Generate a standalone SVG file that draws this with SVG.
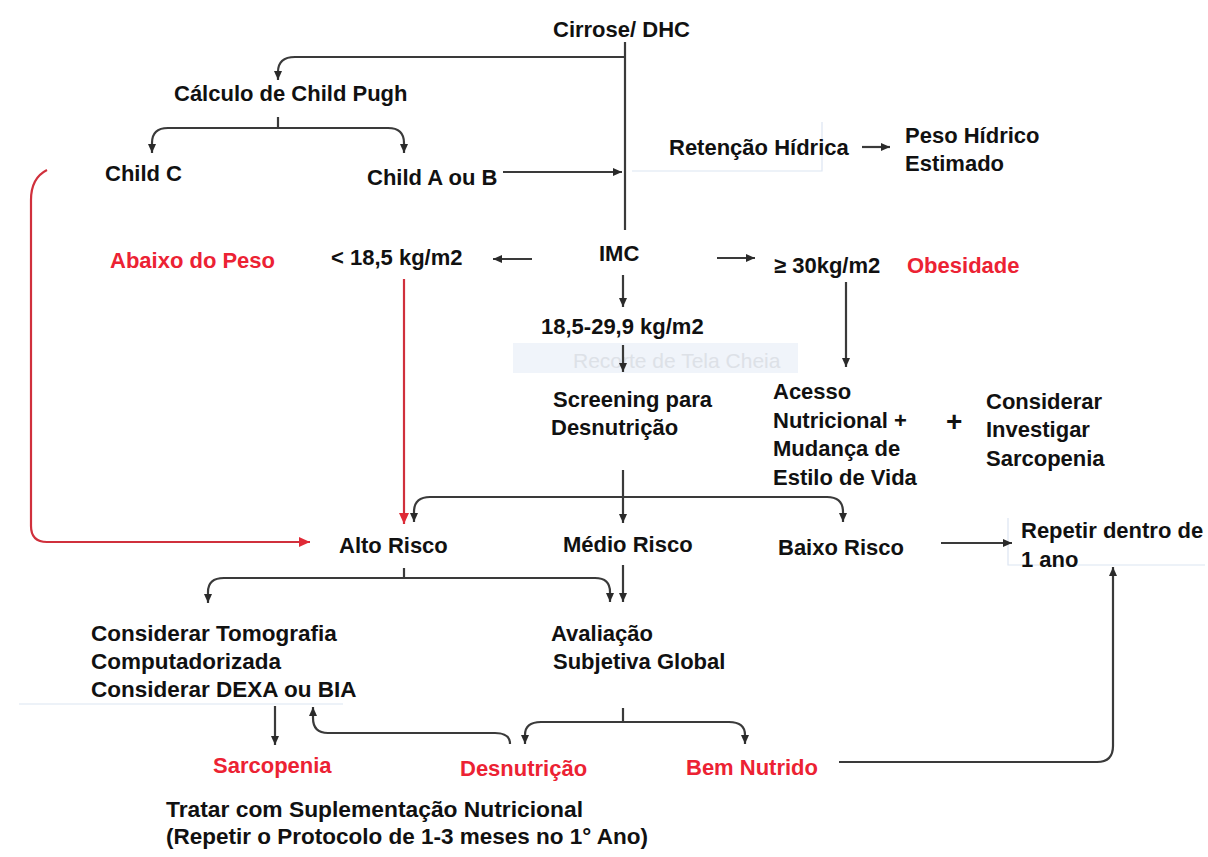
<svg xmlns="http://www.w3.org/2000/svg" width="1208" height="857" viewBox="0 0 1208 857">
<style>
text{font-family:"Liberation Sans",Arial,sans-serif;font-weight:bold;font-size:22px;fill:#111}
.red{fill:#ec2233}
.big{font-size:22.5px}
.c{fill:none;stroke:#3a3a3a;stroke-width:2.2}
.r{fill:none;stroke:#d0303c;stroke-width:2.2}
.faint{fill:none;stroke:#dce5f2;stroke-width:1.2}
.wm{fill:#dde1e7;font-weight:normal;font-size:21px}
</style>
<defs>
<marker id="a" markerUnits="userSpaceOnUse" markerWidth="10" markerHeight="10" viewBox="0 0 10 10" refX="9" refY="5" orient="auto"><path d="M0,1 L9,5 L0,9 Z" fill="#2a2a2a"/></marker>
<marker id="ar" markerUnits="userSpaceOnUse" markerWidth="12" markerHeight="12" viewBox="0 0 12 12" refX="11" refY="6" orient="auto"><path d="M0,1 L11,6 L0,11 Z" fill="#e02a36"/></marker>
</defs>
<rect width="1208" height="857" fill="#fff"/>
<g id="artifacts">
<rect x="513" y="343" width="285" height="30" fill="#f0f4fa"/>
<text class="wm" x="573" y="368">Recorte de Tela Cheia</text>
<path class="faint" d="M632,171 H822 V122"/>
<path class="faint" d="M19,704 H343"/>
<path class="faint" d="M1008,518 V565 H1205"/>
</g>
<g id="connectors">
<path class="c" d="M625,42 V230"/>
<path class="c" d="M625,57 H295 Q278,57 278,72 V80" marker-end="url(#a)"/>
<path class="c" d="M278,117 V128"/>
<path class="c" d="M278,128 H168 Q152,128 152,143 V153" marker-end="url(#a)"/>
<path class="c" d="M278,128 H388 Q404,128 404,143 V153" marker-end="url(#a)"/>
<path class="c" d="M503,172 H622" marker-end="url(#a)"/>
<path class="c" d="M862,147 H890" marker-end="url(#a)"/>
<path class="c" d="M532,259 H493" marker-end="url(#a)"/>
<path class="c" d="M717,258 H755" marker-end="url(#a)"/>
<path class="c" d="M623,275 V307" marker-end="url(#a)"/>
<path class="c" d="M623,345 V372" marker-end="url(#a)"/>
<path class="c" d="M846,282 V367" marker-end="url(#a)"/>
<path class="r" d="M404,279 V524" marker-end="url(#ar)"/>
<path class="r" d="M47,170 Q31,178 31,200 V526 Q31,542 47,542 H310" marker-end="url(#ar)"/>
<path class="c" d="M623,470 V523" marker-end="url(#a)"/>
<path class="c" d="M623,497 H430 Q414,497 414,512 V522" marker-end="url(#a)"/>
<path class="c" d="M623,497 H827 Q843,497 843,512 V522" marker-end="url(#a)"/>
<path class="c" d="M941,543 H1012" marker-end="url(#a)"/>
<path class="c" d="M404,568 V578"/>
<path class="c" d="M404,578 H224 Q208,578 208,592 V603" marker-end="url(#a)"/>
<path class="c" d="M404,578 H595 Q610,578 610,592 V602" marker-end="url(#a)"/>
<path class="c" d="M623,565 V602" marker-end="url(#a)"/>
<path class="c" d="M623,708 V722"/>
<path class="c" d="M623,722 H541 Q525,722 525,735 V744" marker-end="url(#a)"/>
<path class="c" d="M623,722 H729 Q745,722 745,735 V744" marker-end="url(#a)"/>
<path class="c" d="M510,744 Q510,733 495,733 H328 Q313,733 313,718 V707" marker-end="url(#a)"/>
<path class="c" d="M275,706 V745" marker-end="url(#a)"/>
<path class="c" d="M839,762 H1097 Q1113,762 1113,746 V567" marker-end="url(#a)"/>
</g>
<g id="n-cirrose"><text x="553" y="37">Cirrose/ DHC</text></g>
<g id="n-calculo"><text x="174" y="101">Cálculo de Child Pugh</text></g>
<g id="n-childc"><text x="105" y="181">Child C</text></g>
<g id="n-childab"><text x="367" y="185">Child A ou B</text></g>
<g id="n-retencao"><text x="669" y="155">Retenção Hídrica</text></g>
<g id="n-peso"><text x="905" y="143">Peso Hídrico</text><text x="905" y="171">Estimado</text></g>
<g id="n-abaixo"><text class="red" x="110" y="268">Abaixo do Peso</text></g>
<g id="n-menor"><text x="331" y="265">&lt; 18,5 kg/m2</text></g>
<g id="n-imc"><text x="599" y="261">IMC</text></g>
<g id="n-maior"><text x="774" y="273">≥ 30kg/m2</text></g>
<g id="n-obesidade"><text class="red" x="907" y="273">Obesidade</text></g>
<g id="n-normal"><text x="541" y="334">18,5-29,9 kg/m2</text></g>
<g id="n-screening"><text x="553" y="407">Screening para</text><text x="551" y="435">Desnutrição</text></g>
<g id="n-acesso"><text x="773" y="399">Acesso</text><text x="773" y="428">Nutricional +</text><text x="773" y="456">Mudança de</text><text x="773" y="485">Estilo de Vida</text></g>
<g id="n-plus"><text x="946" y="431" style="font-size:28px">+</text></g>
<g id="n-considerar"><text x="986" y="409">Considerar</text><text x="986" y="437">Investigar</text><text x="986" y="466">Sarcopenia</text></g>
<g id="n-alto"><text x="339" y="553">Alto Risco</text></g>
<g id="n-medio"><text x="563" y="552">Médio Risco</text></g>
<g id="n-baixo"><text x="778" y="555">Baixo Risco</text></g>
<g id="n-repetir"><text x="1021" y="538">Repetir dentro de</text><text x="1021" y="567">1 ano</text></g>
<g id="n-tomografia"><text class="big" x="91" y="641">Considerar Tomografia</text><text class="big" x="91" y="669">Computadorizada</text><text class="big" x="91" y="697">Considerar DEXA ou BIA</text></g>
<g id="n-avaliacao"><text x="551" y="641">Avaliação</text><text x="553" y="669">Subjetiva Global</text></g>
<g id="n-sarcopenia"><text class="red" x="213" y="773">Sarcopenia</text></g>
<g id="n-desnutricao"><text class="red" x="460" y="776">Desnutrição</text></g>
<g id="n-bem"><text class="red" x="686" y="775">Bem Nutrido</text></g>
<g id="n-tratar"><text x="166" y="817" textLength="417" lengthAdjust="spacingAndGlyphs">Tratar com Suplementação Nutricional</text><text x="166" y="844" textLength="482" lengthAdjust="spacingAndGlyphs">(Repetir o Protocolo de 1-3 meses no 1° Ano)</text></g>
</svg>
